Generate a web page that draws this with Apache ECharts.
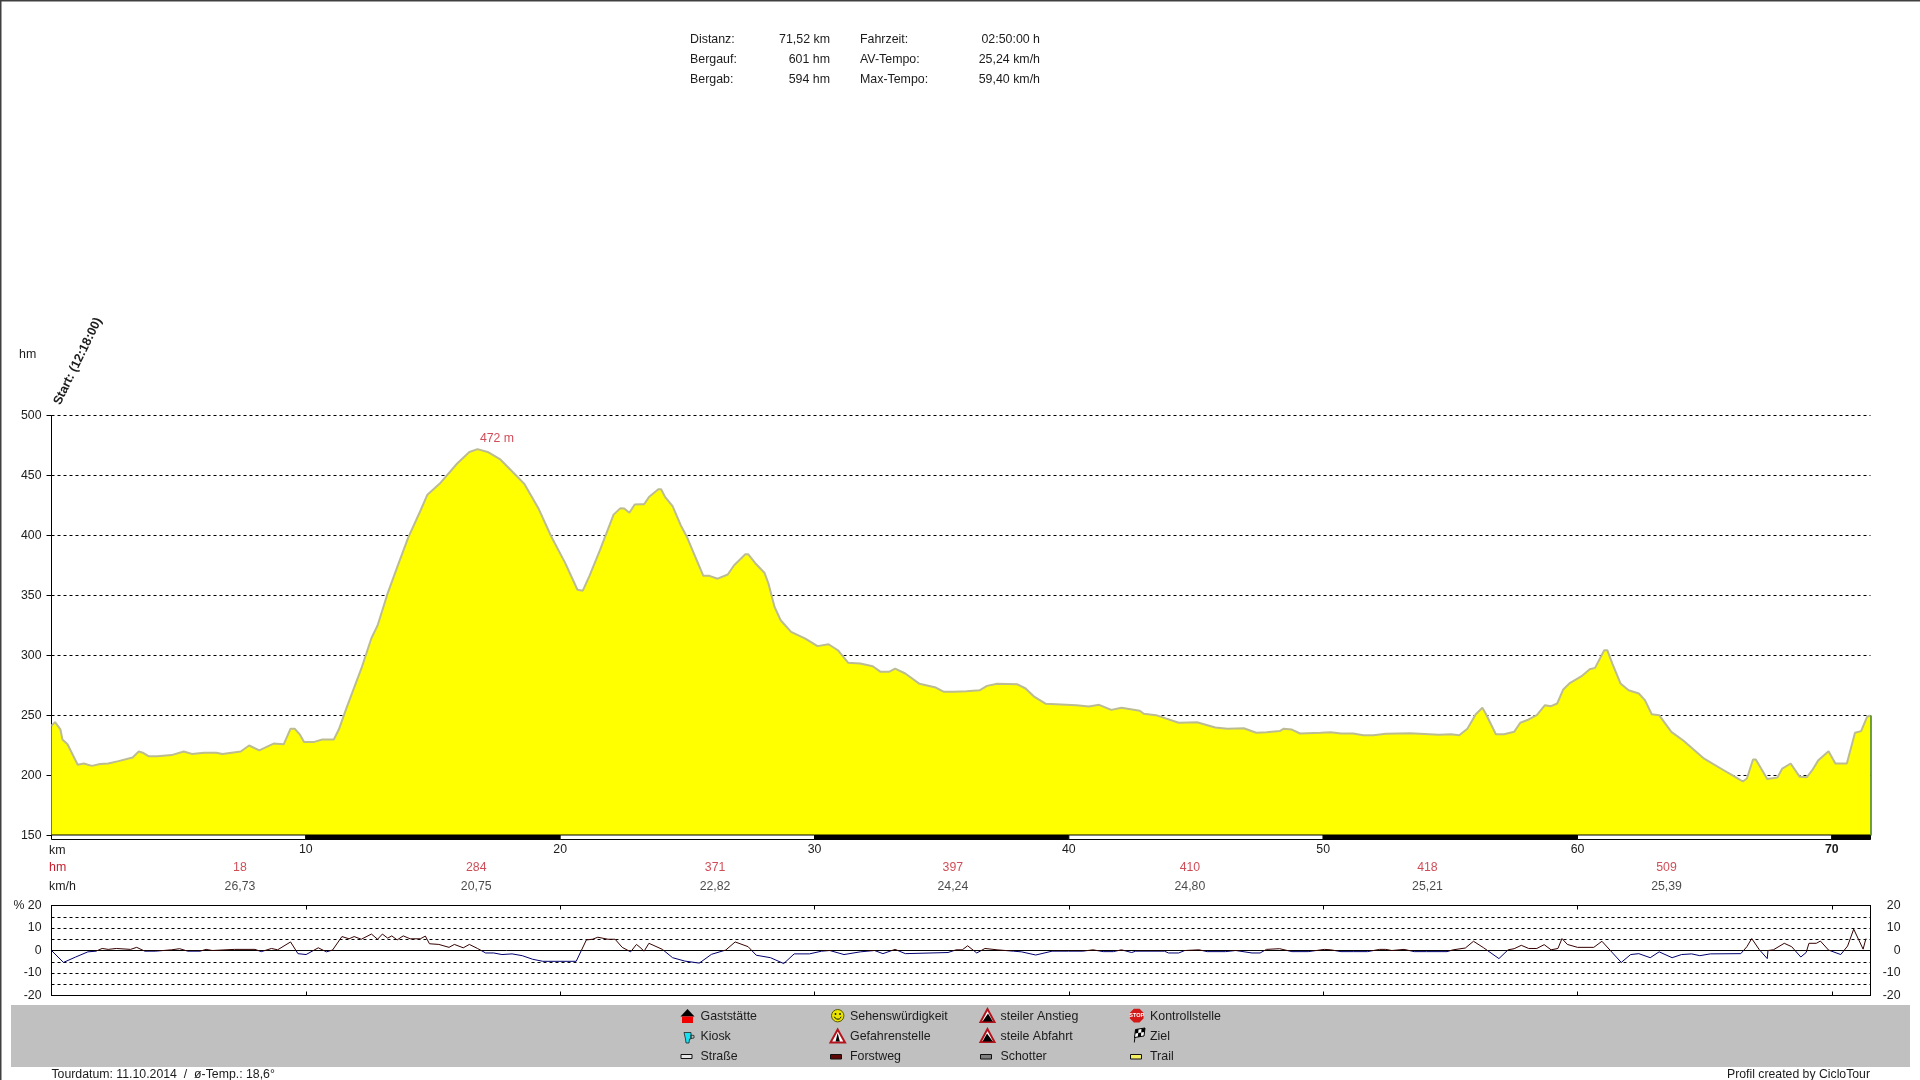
<!DOCTYPE html>
<html><head><meta charset="utf-8">
<script src="https://cdn.jsdelivr.net/npm/echarts@6/dist/echarts.min.js"></script>
<style>html,body{margin:0;padding:0;background:#fff}#c{width:1920px;height:1080px}</style>
</head><body><div id="c"></div>
<script>
// Elevation profile: [km, metres]
const elevation = [[0,241.5],[0.14,244.5],[0.35,238.5],[0.43,230],[0.63,226],[1.03,209],[1.27,210],[1.59,208],[1.91,209.6],[2.23,210],[2.63,212],[3.19,215],[3.43,220],[3.59,219],[3.83,216],[4.16,216],[4.72,217],[5.2,220],[5.52,218],[6,219],[6.48,219],[6.72,218],[7.44,220],[7.77,225],[8.17,221],[8.73,226.6],[9.13,226],[9.4,239],[9.56,239],[9.77,234],[9.93,228],[10.33,228],[10.65,230],[11.1,230],[11.3,238.5],[11.6,256.4],[12.18,289],[12.58,314.6],[12.82,325],[13.22,352],[13.6,374],[14.02,398],[14.5,420.4],[14.78,434],[15.3,444],[15.95,460],[16.43,469.6],[16.75,472],[17.15,469.6],[17.63,463.7],[18.27,450],[18.6,442.8],[19.16,422],[19.64,399.6],[20.2,377],[20.68,354.8],[20.89,354],[21.16,366.8],[21.56,387.6],[22.1,417.4],[22.37,422.8],[22.52,422.5],[22.72,419],[22.93,425.8],[23.14,426],[23.3,426],[23.49,432],[23.86,438.6],[23.97,438.6],[24.13,432],[24.42,424.4],[24.74,408.6],[24.98,399],[25.23,386.4],[25.63,366.4],[25.87,366.4],[26.19,364],[26.59,367.5],[26.83,375],[27.28,384.4],[27.39,384.4],[27.71,376],[28.03,369],[28.19,360],[28.43,340.5],[28.67,329.4],[29.08,319.7],[29.64,314],[30.12,307.8],[30.55,309.4],[30.92,304.4],[31.32,294],[31.8,293.3],[32.29,291],[32.6,286.4],[32.93,286.4],[33.17,289],[33.57,285],[34.13,276.4],[34.77,273.3],[35.09,269.7],[35.49,269.7],[35.97,270.3],[36.49,271],[36.78,274.7],[37.18,276.4],[37.98,276],[38.3,272.5],[38.62,266],[39.1,259.7],[40.3,258.6],[40.79,257.5],[41.19,258.9],[41.67,254.7],[42.07,256.4],[42.79,253.9],[42.95,251.4],[43.43,250.3],[44.32,244],[45.04,244.4],[45.76,240],[46.24,239],[46.88,239.4],[47.37,235.6],[47.77,236],[48.29,237],[48.45,239],[48.77,238.3],[49.09,235],[49.9,235.6],[50.3,236],[50.7,235],[51.18,235],[51.58,233.6],[51.98,233.6],[52.46,234.7],[53.42,235.3],[54.55,234],[55.03,234.4],[55.35,233.6],[55.67,239],[56,251],[56.26,256.4],[56.39,251.7],[56.79,234.4],[57.11,234.4],[57.51,236.4],[57.75,244],[58.08,246.7],[58.4,250.3],[58.72,258.6],[58.96,257.8],[59.2,260],[59.44,271.7],[59.68,276.7],[60.16,282.8],[60.48,288.6],[60.69,289.7],[61.05,304.4],[61.17,304.4],[61.37,293.3],[61.69,276.7],[62.01,271],[62.41,268.3],[62.65,262.8],[62.92,251],[63.21,250.3],[63.69,236.4],[64.17,229],[64.98,214],[65.7,205],[66.18,199],[66.5,195],[66.66,197.5],[66.9,213.3],[67.01,213.3],[67.3,203],[67.46,197],[67.86,198.3],[68.05,205.8],[68.38,210],[68.74,198.9],[69.02,198.6],[69.23,204.4],[69.47,212.8],[69.87,220.3],[70.14,210],[70.59,210],[70.91,235.6],[71.15,237],[71.39,249],[71.52,250]];
// Gradient: [km, percent]
const gradient = [[0,0],[0.47,-5.3],[0.95,-2.9],[1.43,-0.6],[1.75,-0.3],[1.99,0.9],[2.23,0.5],[2.55,0.9],[3.11,0.5],[3.35,1.4],[3.67,-0.3],[4.08,-0.3],[4.72,0.3],[5.04,0.8],[5.36,-0.3],[5.84,-0.3],[6.08,0.5],[6.32,0],[7.2,0.5],[8,0.5],[8.25,-0.5],[8.65,0.9],[8.89,0.3],[9.4,3.8],[9.69,-1.4],[10.01,-1.8],[10.49,1.2],[10.81,-0.6],[11.05,0.2],[11.42,6.2],[11.7,5.2],[11.9,6.2],[12.18,5],[12.58,7.3],[12.82,5],[13.01,7.3],[13.22,5.5],[13.38,6.5],[13.59,4.7],[13.83,6.5],[14.1,5.2],[14.5,5.2],[14.7,6.4],[14.86,3],[15.23,2.7],[15.63,1.4],[15.84,2.7],[16.19,1.2],[16.43,2.7],[16.75,0.9],[17.07,-1.1],[17.39,-1.1],[17.71,-1.8],[18.11,-1.5],[18.51,-2.3],[18.92,-3.9],[19.32,-4.8],[20.63,-4.8],[21.03,4.7],[21.27,5],[21.48,5.9],[21.88,5],[22.16,5],[22.44,1.4],[22.77,-0.6],[23,2.7],[23.14,1.4],[23.3,-0.3],[23.49,3.2],[24.02,0.5],[24.42,-3.2],[24.9,-4.7],[25.47,-5.6],[25.95,-1.7],[26.51,0.2],[26.88,3.8],[27.39,1.7],[27.71,-2.1],[28.27,-3.2],[28.79,-5.8],[29.2,-1.5],[29.8,-1.5],[30.28,-0.3],[30.6,0],[31.16,-1.8],[31.8,-0.6],[32.36,0],[32.69,-1.4],[33.17,0.5],[33.57,-1.4],[35.25,-0.9],[35.57,0.3],[35.81,0.3],[36.02,2.1],[36.38,-1.1],[36.7,0.9],[37.18,0.3],[37.82,-0.3],[38.14,-0.6],[38.7,-2],[39.34,-0.3],[39.99,-0.3],[40.55,-0.3],[40.95,0.3],[41.35,-0.5],[41.75,-0.5],[42.07,0.3],[42.47,-0.9],[42.63,-0.3],[43.76,-0.3],[43.92,-1.1],[44.32,-1.1],[44.56,0],[45.12,0.3],[45.44,-0.5],[46.16,-0.5],[46.56,0],[47.2,-1.1],[47.52,-1.1],[47.77,0.5],[48.29,0.8],[48.77,-0.5],[49.41,-0.5],[50.05,0.5],[50.3,0.3],[50.7,-0.5],[51.18,-0.5],[51.74,-0.5],[52.22,0.5],[52.46,0.5],[52.7,0],[53.18,0.5],[53.58,-0.5],[54.07,-0.5],[54.87,-0.5],[55.11,0.3],[55.59,1.1],[55.91,4.1],[56.31,1.2],[56.91,-3.6],[57.27,0.3],[57.51,0.8],[57.79,2.3],[58.08,0.9],[58.4,0.9],[58.69,2.6],[58.96,0.3],[59.23,0.9],[59.39,5.3],[59.6,2.7],[60,1.4],[60.64,1.4],[60.96,4.1],[61.72,-5.3],[62.09,-1.8],[62.41,-1.4],[62.86,-3.2],[63.21,-0.6],[63.72,-3.2],[64.09,-1.8],[64.49,-1.5],[64.81,-2.3],[65.22,-1.5],[66.42,-1.4],[66.66,1.7],[66.85,5.3],[67.14,0.5],[67.46,-3.6],[67.49,0],[67.7,0.3],[68.13,3.2],[68.42,1.7],[68.78,-2.9],[68.99,-0.9],[69.1,3.2],[69.39,3.2],[69.55,4.2],[69.87,0.2],[70.35,-1.8],[70.62,2],[70.86,9.5],[71.23,0.6],[71.34,5.3]];
const totalKm = 71.52;
const peak = [16.75, 472];
const sectionKm = [7.41,16.7,26.09,35.44,44.76,54.1,63.5];
const sectionHm = [18,284,371,397,410,418,509];
const sectionSpeed = ['26,73','20,75','22,82','24,24','24,80','25,21','25,39'];
const barSegments = [[0,10,0],[10,20,1],[20,30,0],[30,40,1],[40,50,0],[50,60,1],[60,70,0],[70,71.52,1]];
const statsLeft = [['Distanz:','71,52 km'],['Bergauf:','601 hm'],['Bergab:','594 hm']];
const statsRight = [['Fahrzeit:','02:50:00 h'],['AV-Tempo:','25,24 km/h'],['Max-Tempo:','59,40 km/h']];
const legendColumns = [['Gaststätte','Kiosk','Straße'],['Sehenswürdigkeit','Gefahrenstelle','Forstweg'],['steiler Anstieg','steile Abfahrt','Schotter'],['Kontrollstelle','Ziel','Trail']];

const FONT = '"Liberation Sans", Arial, sans-serif';
const INK = '#1c1c1c';
const RED = '#c4202e';
const chart = echarts.init(document.getElementById('c'), null, {renderer:'canvas'});

function txt(text,x,y,opt){opt=opt||{};return {type:'text',silent:true,z:opt.z||10,x:x,y:y,rotation:opt.rotation||0,style:{text:text,x:0,y:0,fill:opt.fill||INK,font:(opt.font||'12.4px')+' '+FONT,textAlign:opt.align||'left',textVerticalAlign:'middle'}};}
function rect(x,y,w,h,fill,stroke){return {type:'rect',silent:true,z:8,shape:{x:x,y:y,width:w,height:h},style:{fill:fill,stroke:stroke||null,lineWidth:stroke?1:0}};}
function poly(pts,fill,stroke,lw){return {type:'polygon',silent:true,z:8,shape:{points:pts},style:{fill:fill,stroke:stroke||null,lineWidth:lw||0}};}
function circ(cx,cy,r,fill,stroke,lw){return {type:'circle',silent:true,z:8,shape:{cx:cx,cy:cy,r:r},style:{fill:fill,stroke:stroke||null,lineWidth:lw||0}};}

const g = [];
// page frame
g.push(rect(0,0,1920,1.5,'#404040'),rect(0,0,1.5,1080,'#404040'));
// stats block
statsLeft.forEach((r,i)=>{g.push(txt(r[0],690,39.7+i*20),txt(r[1],830,39.7+i*20,{align:'right'}));});
statsRight.forEach((r,i)=>{g.push(txt(r[0],860,39.7+i*20),txt(r[1],1040,39.7+i*20,{align:'right'}));});
// axis captions
g.push(txt('hm',19,355));
g.push(txt('Start: (12:18:00)',57,404,{font:'bold 12.6px',rotation:64*Math.PI/180}));
g.push(txt('km',49,850.5),txt('hm',49,868,{fill:RED}),txt('km/h',49,886.5));
// legend panel
g.push(rect(11,1005,1899,62,'#c0c0c0'));
const colX=[700.5,850,1000.5,1150], rowY=[1016.3,1036.3,1056.3];
legendColumns.forEach((col,c)=>col.forEach((name,r)=>g.push(txt(name,colX[c],rowY[r]))));
// icons
g.push(poly([[680.5,1016.5],[687.5,1009],[694.5,1016.5]],'#000'),rect(682,1016.5,11,6.5,'#f00000'));
g.push(poly([[684,1032.5],[691,1032.5],[691,1039],[689.5,1039],[689,1043],[686,1043],[685.5,1039]],'#18e0f0','#222',0.8),poly([[691,1035],[694,1035.5],[694,1038],[691,1038.5]],'none','#222',0.8));
g.push(rect(681,1054.5,11,4,'#e6e6e6','#111'));
g.push(circ(837.7,1015.7,6.2,'#e8e400','#5a5a00',1),circ(835.5,1014,0.9,'#111'),circ(840,1014,0.9,'#111'),{type:'arc',silent:true,z:9,shape:{cx:837.7,cy:1015.5,r:3.6,startAngle:0.35,endAngle:2.8},style:{fill:null,stroke:'#111',lineWidth:1}});
g.push(poly([[837.7,1029.5],[830.5,1042.5],[845,1042.5]],'#fff','#b4141e',2),poly([[837.7,1033],[835.6,1041.5],[839.8,1041.5]],'#000'));
g.push(rect(830.5,1054.5,11,4.5,'#600808','#111'));
g.push(poly([[987.5,1009],[980.5,1022],[994.5,1022]],'#fff','#b4141e',2),poly([[982.5,1021.5],[988,1013.5],[992.8,1021.5]],'#000'));
g.push(poly([[987.5,1029],[980.5,1042],[994.5,1042]],'#fff','#b4141e',2),poly([[982.5,1041.5],[987,1033.5],[992.8,1041.5]],'#000'));
g.push(rect(980.5,1054.5,11,4.5,'#808080','#111'));
const oct=[];for(let i=0;i<8;i++){const a=Math.PI/8+i*Math.PI/4;oct.push([1136.7+7.4*Math.cos(a),1015.7+7.4*Math.sin(a)]);}
g.push(poly(oct,'#d41818'),{type:'text',silent:true,z:9,x:1136.7,y:1015.7,style:{text:'STOP',x:0,y:0,fill:'#fff',font:'bold 5.5px '+FONT,textAlign:'center',textVerticalAlign:'middle'}});
g.push(poly([[1135.5,1029.5],[1145,1028],[1144,1036],[1134.5,1037.5]],'#fff','#000',1),poly([[1135.5,1029.5],[1138.5,1029],[1138.2,1033],[1135,1033.5]],'#000'),poly([[1141.5,1028.7],[1145,1028],[1144.6,1032],[1141.2,1032.5]],'#000'),poly([[1138.2,1033],[1141.2,1032.5],[1141,1036.4],[1137.8,1036.9]],'#000'),poly([[1134.5,1037],[1135.5,1037],[1134.7,1042.5],[1133.8,1042.5]],'#000'));
g.push(rect(1130.5,1054.5,11,4.5,'#f4f060','#111'));
// footer
g.push(txt('Tourdatum: 11.10.2014  /  ø-Temp.: 18,6°',51.4,1074.6,{font:'12.3px'}),txt('Profil created by CicloTour',1870,1074.6,{align:'right',font:'12.25px'}));

const dashed = {show:true,lineStyle:{color:'#000',type:[3,3],width:1}};
const black = {show:true,onZero:false,lineStyle:{color:'#000',width:1}};
const L=51.5, W=1819;
const base = {fontFamily:FONT,fontSize:12.3,color:INK};
const fmtKm = v => (v%10===0 && v>0 && v<=70) ? (v===70?'{b|70}':String(v)) : '';

chart.setOption({
  animation:false, backgroundColor:'#fff', textStyle:{fontFamily:FONT},
  graphic:{elements:g},
  grid:[
    {left:L,top:415.5,width:W,height:420},
    {left:L,top:835,width:W,height:4.5},
    {left:L,top:905.5,width:W,height:90}
  ],
  xAxis:[
    {type:'value',gridIndex:0,min:0,max:totalKm,show:false},
    {type:'value',gridIndex:1,min:0,max:totalKm,interval:10,position:'bottom',axisLine:{show:false},axisTick:{show:false},splitLine:{show:false},
      axisLabel:Object.assign({},base,{margin:4,showMinLabel:false,showMaxLabel:false,hideOverlap:false,formatter:fmtKm,rich:{b:{fontFamily:FONT,fontSize:12.3,fontWeight:'bold',color:INK}}})},
    {type:'value',gridIndex:2,min:0,max:totalKm,interval:10,position:'bottom',axisLine:black,axisTick:{show:true,inside:true,length:4,lineStyle:{color:'#000'}},axisLabel:{show:false},splitLine:{show:false}},
    {type:'value',gridIndex:2,min:0,max:totalKm,interval:10,position:'top',axisLine:black,axisTick:{show:true,inside:true,length:4,lineStyle:{color:'#000'}},axisLabel:{show:false},splitLine:{show:false}}
  ],
  yAxis:[
    {type:'value',gridIndex:0,min:150,max:500,interval:50,axisLine:black,axisTick:{show:true,length:5,lineStyle:{color:'#000'}},axisLabel:Object.assign({},base,{margin:10}),splitLine:dashed},
    {type:'value',gridIndex:1,min:0,max:1,show:false},
    {type:'value',gridIndex:2,min:-20,max:20,interval:5,position:'left',axisLine:black,axisTick:{show:false},splitLine:dashed,
      axisLabel:Object.assign({},base,{margin:10,formatter:v=>v%10===0?(v===20?'% 20':String(v)):''})},
    {type:'value',gridIndex:2,min:-20,max:20,interval:5,position:'right',axisLine:black,axisTick:{show:false},splitLine:{show:false},
      axisLabel:Object.assign({},base,{margin:30,align:'right',formatter:v=>v%10===0?String(v):''})}
  ],
  visualMap:[{type:'piecewise',show:false,seriesIndex:5,dimension:1,pieces:[{min:-20,max:0,color:'#000070'},{min:0,max:20,color:'#350000'}]}],
  series:[
    {name:'Höhe',type:'line',xAxisIndex:0,yAxisIndex:0,data:elevation,showSymbol:false,smooth:false,silent:true,z:3,
      lineStyle:{color:'#bcbc94',width:2},areaStyle:{color:'#ffff00',opacity:1},
      markLine:{silent:true,symbol:'none',label:{show:false},animation:false,lineStyle:{color:'#3c8012',width:1.5,type:'solid'},
        data:[[{coord:[totalKm,150]},{coord:[totalKm,elevation[elevation.length-1][1]]}]]}},
    {name:'peak',type:'scatter',xAxisIndex:0,yAxisIndex:0,data:[peak],symbolSize:0,silent:true,z:5,
      label:{show:true,position:'inside',offset:[19.5,-10],formatter:p=>p.value[1]+' m',fontFamily:FONT,fontSize:12.3,color:RED}},
    {name:'km',type:'custom',xAxisIndex:1,yAxisIndex:1,data:barSegments,silent:true,z:4,clip:false,
      renderItem:(params,api)=>{const a=api.coord([api.value(0),1]),b=api.coord([api.value(1),0]);
        return {type:'rect',shape:{x:a[0],y:a[1],width:b[0]-a[0],height:b[1]-a[1]},style:{fill:api.value(2)?'#000':'#fff',stroke:'#000',lineWidth:1}};}},
    {name:'hm',type:'scatter',xAxisIndex:1,yAxisIndex:1,data:sectionKm.map(k=>[k,0.5]),symbolSize:0,silent:true,clip:false,
      label:{show:true,position:'inside',offset:[0,30.5],formatter:p=>String(sectionHm[p.dataIndex]),fontFamily:FONT,fontSize:12.3,color:RED}},
    {name:'km/h',type:'scatter',xAxisIndex:1,yAxisIndex:1,data:sectionKm.map(k=>[k,0.5]),symbolSize:0,silent:true,clip:false,
      label:{show:true,position:'inside',offset:[0,49],formatter:p=>sectionSpeed[p.dataIndex],fontFamily:FONT,fontSize:12.3,color:INK}},
    {name:'Steigung',type:'line',xAxisIndex:2,yAxisIndex:2,data:gradient,showSymbol:false,silent:true,z:5,lineStyle:{width:1},
      markLine:{silent:true,symbol:'none',label:{show:false},animation:false,lineStyle:{color:'#000',width:1,type:'solid'},data:[{yAxis:0}]}}
  ]
});
</script></body></html>
